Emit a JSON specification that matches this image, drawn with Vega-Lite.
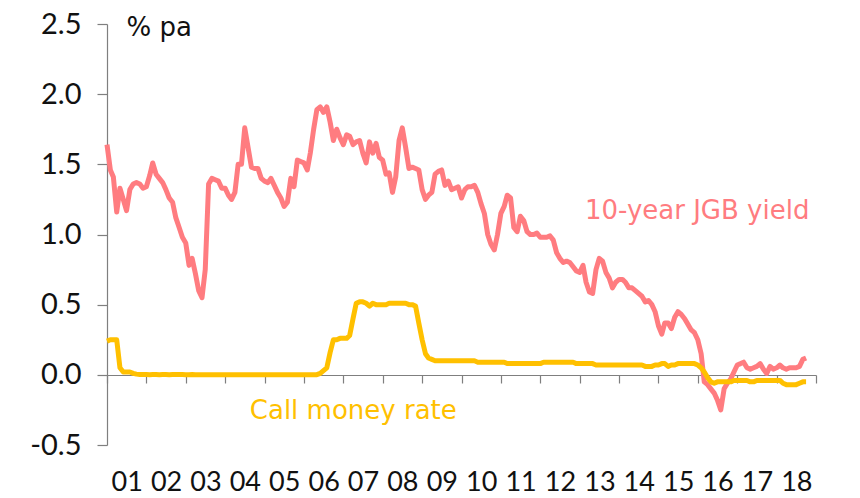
{
"$schema": "https://vega.github.io/schema/vega-lite/v6.json",
"autosize": "none",
"width": 709,
"height": 421,
"padding": {"left": 107, "top": 24, "right": 44, "bottom": 53},
"background": "white",
"config": {"view": {"stroke": null}, "font": "Lato"},
"datasets": {
"jgb": [
{"d":"2001-01","v":1.64},{"d":"2001-02","v":1.46},{"d":"2001-03","v":1.41},{"d":"2001-04","v":1.16},{"d":"2001-05","v":1.33},{"d":"2001-06","v":1.25},{"d":"2001-07","v":1.17},{"d":"2001-08","v":1.32},{"d":"2001-09","v":1.36},{"d":"2001-10","v":1.37},{"d":"2001-11","v":1.36},{"d":"2001-12","v":1.33},
{"d":"2002-01","v":1.34},{"d":"2002-02","v":1.42},{"d":"2002-03","v":1.51},{"d":"2002-04","v":1.43},{"d":"2002-05","v":1.40},{"d":"2002-06","v":1.37},{"d":"2002-07","v":1.32},{"d":"2002-08","v":1.26},{"d":"2002-09","v":1.23},{"d":"2002-10","v":1.12},{"d":"2002-11","v":1.05},{"d":"2002-12","v":0.98},
{"d":"2003-01","v":0.94},{"d":"2003-02","v":0.78},{"d":"2003-03","v":0.83},{"d":"2003-04","v":0.72},{"d":"2003-05","v":0.60},{"d":"2003-06","v":0.55},{"d":"2003-07","v":0.75},{"d":"2003-08","v":1.36},{"d":"2003-09","v":1.40},{"d":"2003-10","v":1.39},{"d":"2003-11","v":1.38},{"d":"2003-12","v":1.33},
{"d":"2004-01","v":1.33},{"d":"2004-02","v":1.28},{"d":"2004-03","v":1.25},{"d":"2004-04","v":1.30},{"d":"2004-05","v":1.50},{"d":"2004-06","v":1.50},{"d":"2004-07","v":1.76},{"d":"2004-08","v":1.62},{"d":"2004-09","v":1.48},{"d":"2004-10","v":1.47},{"d":"2004-11","v":1.47},{"d":"2004-12","v":1.40},
{"d":"2005-01","v":1.38},{"d":"2005-02","v":1.37},{"d":"2005-03","v":1.40},{"d":"2005-04","v":1.35},{"d":"2005-05","v":1.30},{"d":"2005-06","v":1.26},{"d":"2005-07","v":1.20},{"d":"2005-08","v":1.23},{"d":"2005-09","v":1.40},{"d":"2005-10","v":1.34},{"d":"2005-11","v":1.53},{"d":"2005-12","v":1.52},
{"d":"2006-01","v":1.51},{"d":"2006-02","v":1.46},{"d":"2006-03","v":1.58},{"d":"2006-04","v":1.75},{"d":"2006-05","v":1.89},{"d":"2006-06","v":1.91},{"d":"2006-07","v":1.87},{"d":"2006-08","v":1.91},{"d":"2006-09","v":1.80},{"d":"2006-10","v":1.67},{"d":"2006-11","v":1.75},{"d":"2006-12","v":1.69},
{"d":"2007-01","v":1.64},{"d":"2007-02","v":1.71},{"d":"2007-03","v":1.70},{"d":"2007-04","v":1.64},{"d":"2007-05","v":1.66},{"d":"2007-06","v":1.67},{"d":"2007-07","v":1.58},{"d":"2007-08","v":1.51},{"d":"2007-09","v":1.66},{"d":"2007-10","v":1.58},{"d":"2007-11","v":1.65},{"d":"2007-12","v":1.55},
{"d":"2008-01","v":1.53},{"d":"2008-02","v":1.43},{"d":"2008-03","v":1.44},{"d":"2008-04","v":1.30},{"d":"2008-05","v":1.41},{"d":"2008-06","v":1.67},{"d":"2008-07","v":1.76},{"d":"2008-08","v":1.62},{"d":"2008-09","v":1.47},{"d":"2008-10","v":1.48},{"d":"2008-11","v":1.47},{"d":"2008-12","v":1.46},
{"d":"2009-01","v":1.32},{"d":"2009-02","v":1.25},{"d":"2009-03","v":1.28},{"d":"2009-04","v":1.30},{"d":"2009-05","v":1.43},{"d":"2009-06","v":1.45},{"d":"2009-07","v":1.46},{"d":"2009-08","v":1.35},{"d":"2009-09","v":1.38},{"d":"2009-10","v":1.32},{"d":"2009-11","v":1.33},{"d":"2009-12","v":1.34},
{"d":"2010-01","v":1.26},{"d":"2010-02","v":1.32},{"d":"2010-03","v":1.34},{"d":"2010-04","v":1.34},{"d":"2010-05","v":1.35},{"d":"2010-06","v":1.30},{"d":"2010-07","v":1.22},{"d":"2010-08","v":1.15},{"d":"2010-09","v":1.00},{"d":"2010-10","v":0.93},{"d":"2010-11","v":0.89},{"d":"2010-12","v":1.00},
{"d":"2011-01","v":1.15},{"d":"2011-02","v":1.20},{"d":"2011-03","v":1.28},{"d":"2011-04","v":1.26},{"d":"2011-05","v":1.05},{"d":"2011-06","v":1.02},{"d":"2011-07","v":1.13},{"d":"2011-08","v":1.10},{"d":"2011-09","v":1.02},{"d":"2011-10","v":1.00},{"d":"2011-11","v":1.00},{"d":"2011-12","v":1.01},
{"d":"2012-01","v":0.98},{"d":"2012-02","v":0.98},{"d":"2012-03","v":0.98},{"d":"2012-04","v":0.99},{"d":"2012-05","v":0.96},{"d":"2012-06","v":0.87},{"d":"2012-07","v":0.83},{"d":"2012-08","v":0.80},{"d":"2012-09","v":0.81},{"d":"2012-10","v":0.80},{"d":"2012-11","v":0.77},{"d":"2012-12","v":0.74},
{"d":"2013-01","v":0.73},{"d":"2013-02","v":0.78},{"d":"2013-03","v":0.66},{"d":"2013-04","v":0.59},{"d":"2013-05","v":0.58},{"d":"2013-06","v":0.75},{"d":"2013-07","v":0.83},{"d":"2013-08","v":0.81},{"d":"2013-09","v":0.73},{"d":"2013-10","v":0.69},{"d":"2013-11","v":0.62},{"d":"2013-12","v":0.66},
{"d":"2014-01","v":0.68},{"d":"2014-02","v":0.68},{"d":"2014-03","v":0.66},{"d":"2014-04","v":0.62},{"d":"2014-05","v":0.62},{"d":"2014-06","v":0.60},{"d":"2014-07","v":0.58},{"d":"2014-08","v":0.56},{"d":"2014-09","v":0.52},{"d":"2014-10","v":0.53},{"d":"2014-11","v":0.50},{"d":"2014-12","v":0.45},
{"d":"2015-01","v":0.35},{"d":"2015-02","v":0.29},{"d":"2015-03","v":0.37},{"d":"2015-04","v":0.37},{"d":"2015-05","v":0.33},{"d":"2015-06","v":0.41},{"d":"2015-07","v":0.45},{"d":"2015-08","v":0.43},{"d":"2015-09","v":0.40},{"d":"2015-10","v":0.36},{"d":"2015-11","v":0.32},{"d":"2015-12","v":0.30},
{"d":"2016-01","v":0.25},{"d":"2016-02","v":0.15},{"d":"2016-03","v":-0.05},{"d":"2016-04","v":-0.07},{"d":"2016-05","v":-0.10},{"d":"2016-06","v":-0.13},{"d":"2016-07","v":-0.18},{"d":"2016-08","v":-0.25},{"d":"2016-09","v":-0.10},{"d":"2016-10","v":-0.06},{"d":"2016-11","v":-0.03},{"d":"2016-12","v":0.02},
{"d":"2017-01","v":0.07},{"d":"2017-02","v":0.08},{"d":"2017-03","v":0.09},{"d":"2017-04","v":0.05},{"d":"2017-05","v":0.04},{"d":"2017-06","v":0.05},{"d":"2017-07","v":0.06},{"d":"2017-08","v":0.08},{"d":"2017-09","v":0.04},{"d":"2017-10","v":0.01},{"d":"2017-11","v":0.06},{"d":"2017-12","v":0.04},
{"d":"2018-01","v":0.05},{"d":"2018-02","v":0.07},{"d":"2018-03","v":0.05},{"d":"2018-04","v":0.04},{"d":"2018-05","v":0.05},{"d":"2018-06","v":0.05},{"d":"2018-07","v":0.05},{"d":"2018-08","v":0.06},{"d":"2018-09","v":0.11},{"d":"2018-10","v":0.12}
],
"call": [
{"d":"2001-01","v":0.24},{"d":"2001-02","v":0.25},{"d":"2001-03","v":0.25},{"d":"2001-04","v":0.25},{"d":"2001-05","v":0.05},{"d":"2001-06","v":0.02},{"d":"2001-07","v":0.02},{"d":"2001-08","v":0.02},{"d":"2001-09","v":0.01},{"d":"2001-10","v":0.005},{"d":"2001-11","v":0.003},{"d":"2001-12","v":0.002},
{"d":"2002-01","v":0.002},{"d":"2002-02","v":0.001},{"d":"2002-03","v":0.002},{"d":"2002-04","v":0.002},{"d":"2002-05","v":0.001},{"d":"2002-06","v":0.002},{"d":"2002-07","v":0.002},{"d":"2002-08","v":0.001},{"d":"2002-09","v":0.002},{"d":"2002-10","v":0.003},{"d":"2002-11","v":0.002},{"d":"2002-12","v":0.002},
{"d":"2003-01","v":0.001},{"d":"2003-02","v":0.001},{"d":"2003-03","v":0.002},{"d":"2003-04","v":0.001},{"d":"2003-05","v":0.001},{"d":"2003-06","v":0.001},{"d":"2003-07","v":0.001},{"d":"2003-08","v":0.001},{"d":"2003-09","v":0.001},{"d":"2003-10","v":0.001},{"d":"2003-11","v":0.001},{"d":"2003-12","v":0.001},
{"d":"2004-01","v":0.001},{"d":"2004-02","v":0.001},{"d":"2004-03","v":0.001},{"d":"2004-04","v":0.001},{"d":"2004-05","v":0.001},{"d":"2004-06","v":0.001},{"d":"2004-07","v":0.001},{"d":"2004-08","v":0.001},{"d":"2004-09","v":0.001},{"d":"2004-10","v":0.001},{"d":"2004-11","v":0.001},{"d":"2004-12","v":0.001},
{"d":"2005-01","v":0.001},{"d":"2005-02","v":0.001},{"d":"2005-03","v":0.001},{"d":"2005-04","v":0.001},{"d":"2005-05","v":0.001},{"d":"2005-06","v":0.001},{"d":"2005-07","v":0.001},{"d":"2005-08","v":0.001},{"d":"2005-09","v":0.001},{"d":"2005-10","v":0.001},{"d":"2005-11","v":0.001},{"d":"2005-12","v":0.001},
{"d":"2006-01","v":0.001},{"d":"2006-02","v":0.001},{"d":"2006-03","v":0.001},{"d":"2006-04","v":0.001},{"d":"2006-05","v":0.001},{"d":"2006-06","v":0.01},{"d":"2006-07","v":0.03},{"d":"2006-08","v":0.05},{"d":"2006-09","v":0.16},{"d":"2006-10","v":0.25},{"d":"2006-11","v":0.25},{"d":"2006-12","v":0.26},
{"d":"2007-01","v":0.26},{"d":"2007-02","v":0.26},{"d":"2007-03","v":0.28},{"d":"2007-04","v":0.40},{"d":"2007-05","v":0.51},{"d":"2007-06","v":0.52},{"d":"2007-07","v":0.52},{"d":"2007-08","v":0.51},{"d":"2007-09","v":0.49},{"d":"2007-10","v":0.51},{"d":"2007-11","v":0.50},{"d":"2007-12","v":0.50},
{"d":"2008-01","v":0.50},{"d":"2008-02","v":0.50},{"d":"2008-03","v":0.51},{"d":"2008-04","v":0.51},{"d":"2008-05","v":0.51},{"d":"2008-06","v":0.51},{"d":"2008-07","v":0.51},{"d":"2008-08","v":0.51},{"d":"2008-09","v":0.50},{"d":"2008-10","v":0.50},{"d":"2008-11","v":0.49},{"d":"2008-12","v":0.37},
{"d":"2009-01","v":0.25},{"d":"2009-02","v":0.15},{"d":"2009-03","v":0.12},{"d":"2009-04","v":0.11},{"d":"2009-05","v":0.10},{"d":"2009-06","v":0.10},{"d":"2009-07","v":0.10},{"d":"2009-08","v":0.10},{"d":"2009-09","v":0.10},{"d":"2009-10","v":0.10},{"d":"2009-11","v":0.10},{"d":"2009-12","v":0.10},
{"d":"2010-01","v":0.10},{"d":"2010-02","v":0.10},{"d":"2010-03","v":0.10},{"d":"2010-04","v":0.10},{"d":"2010-05","v":0.10},{"d":"2010-06","v":0.09},{"d":"2010-07","v":0.09},{"d":"2010-08","v":0.09},{"d":"2010-09","v":0.09},{"d":"2010-10","v":0.09},{"d":"2010-11","v":0.09},{"d":"2010-12","v":0.09},
{"d":"2011-01","v":0.09},{"d":"2011-02","v":0.09},{"d":"2011-03","v":0.08},{"d":"2011-04","v":0.08},{"d":"2011-05","v":0.08},{"d":"2011-06","v":0.08},{"d":"2011-07","v":0.08},{"d":"2011-08","v":0.08},{"d":"2011-09","v":0.08},{"d":"2011-10","v":0.08},{"d":"2011-11","v":0.08},{"d":"2011-12","v":0.08},
{"d":"2012-01","v":0.08},{"d":"2012-02","v":0.09},{"d":"2012-03","v":0.09},{"d":"2012-04","v":0.09},{"d":"2012-05","v":0.09},{"d":"2012-06","v":0.09},{"d":"2012-07","v":0.09},{"d":"2012-08","v":0.09},{"d":"2012-09","v":0.09},{"d":"2012-10","v":0.09},{"d":"2012-11","v":0.09},{"d":"2012-12","v":0.08},
{"d":"2013-01","v":0.08},{"d":"2013-02","v":0.08},{"d":"2013-03","v":0.08},{"d":"2013-04","v":0.08},{"d":"2013-05","v":0.08},{"d":"2013-06","v":0.07},{"d":"2013-07","v":0.07},{"d":"2013-08","v":0.07},{"d":"2013-09","v":0.07},{"d":"2013-10","v":0.07},{"d":"2013-11","v":0.07},{"d":"2013-12","v":0.07},
{"d":"2014-01","v":0.07},{"d":"2014-02","v":0.07},{"d":"2014-03","v":0.07},{"d":"2014-04","v":0.07},{"d":"2014-05","v":0.07},{"d":"2014-06","v":0.07},{"d":"2014-07","v":0.07},{"d":"2014-08","v":0.07},{"d":"2014-09","v":0.06},{"d":"2014-10","v":0.06},{"d":"2014-11","v":0.06},{"d":"2014-12","v":0.07},
{"d":"2015-01","v":0.07},{"d":"2015-02","v":0.08},{"d":"2015-03","v":0.08},{"d":"2015-04","v":0.06},{"d":"2015-05","v":0.07},{"d":"2015-06","v":0.07},{"d":"2015-07","v":0.08},{"d":"2015-08","v":0.08},{"d":"2015-09","v":0.08},{"d":"2015-10","v":0.08},{"d":"2015-11","v":0.08},{"d":"2015-12","v":0.08},
{"d":"2016-01","v":0.07},{"d":"2016-02","v":0.05},{"d":"2016-03","v":0.02},{"d":"2016-04","v":-0.02},{"d":"2016-05","v":-0.05},{"d":"2016-06","v":-0.06},{"d":"2016-07","v":-0.05},{"d":"2016-08","v":-0.05},{"d":"2016-09","v":-0.05},{"d":"2016-10","v":-0.05},{"d":"2016-11","v":-0.05},{"d":"2016-12","v":-0.04},
{"d":"2017-01","v":-0.04},{"d":"2017-02","v":-0.04},{"d":"2017-03","v":-0.04},{"d":"2017-04","v":-0.04},{"d":"2017-05","v":-0.05},{"d":"2017-06","v":-0.05},{"d":"2017-07","v":-0.04},{"d":"2017-08","v":-0.04},{"d":"2017-09","v":-0.04},{"d":"2017-10","v":-0.04},{"d":"2017-11","v":-0.04},{"d":"2017-12","v":-0.04},
{"d":"2018-01","v":-0.04},{"d":"2018-02","v":-0.04},{"d":"2018-03","v":-0.06},{"d":"2018-04","v":-0.07},{"d":"2018-05","v":-0.07},{"d":"2018-06","v":-0.07},{"d":"2018-07","v":-0.07},{"d":"2018-08","v":-0.06},{"d":"2018-09","v":-0.05},{"d":"2018-10","v":-0.05}
],
"notes": [
{"d":"2001-07-01","v":2.47,"label":"% pa","s":"unit"},
{"d":"2013-02-18","v":1.17,"label":"10-year JGB yield","s":"jgb"},
{"d":"2004-08-17","v":-0.26,"label":"Call money rate","s":"call"}
]
},
"layer": [
{
"data": {"name": "jgb"},
"mark": {"type": "line", "color": "#FF7C80", "strokeWidth": 5, "strokeJoin": "round"},
"encoding": {
"x": {"field": "d", "type": "temporal",
"scale": {"type": "utc", "nice": false, "domain": [{"year": 2001, "month": 1, "date": 1, "utc": true}, {"year": 2019, "month": 1, "date": 1, "utc": true}]},
"axis": {"title": null, "grid": false, "offset": -70, "tickCount": {"interval": "year", "step": 1},
"labelExpr": "utcyear(datum.value) < 2019 ? utcFormat(datum.value, '%y') : ''",
"labelOffset": 19.7, "labelPadding": 86, "tickSize": 8, "labelFontSize": 27, "labelColor": "#111111",
"labelAlign": "center", "labelFlush": false, "labelOverlap": false, "labelBound": false,
"domainColor": "#7f7f7f", "tickColor": "#7f7f7f", "domainWidth": 1.2, "tickWidth": 1.2}},
"y": {"field": "v", "type": "quantitative",
"scale": {"domain": [-0.5, 2.5], "nice": false, "zero": false},
"axis": {"title": null, "grid": false, "values": [-0.5, 0, 0.5, 1, 1.5, 2, 2.5],
"labelExpr": "datum.value < 0 ? '-' + format(-datum.value, '.1f') : format(datum.value, '.1f')",
"tickSize": 10, "labelPadding": 16, "labelFontSize": 29, "labelColor": "#111111",
"domainColor": "#7f7f7f", "tickColor": "#7f7f7f", "domainWidth": 1.2, "tickWidth": 1.2}}
}
},
{
"data": {"name": "call"},
"mark": {"type": "line", "color": "#FFC000", "strokeWidth": 5, "strokeJoin": "round"},
"encoding": {
"x": {"field": "d", "type": "temporal"},
"y": {"field": "v", "type": "quantitative"}
}
},
{
"data": {"name": "notes"},
"mark": {"type": "text", "align": "left", "baseline": "middle", "fontSize": 26, "font": "DejaVu Sans"},
"encoding": {
"x": {"field": "d", "type": "temporal"},
"y": {"field": "v", "type": "quantitative"},
"text": {"field": "label"},
"color": {"field": "s", "type": "nominal", "legend": null,
"scale": {"domain": ["unit", "jgb", "call"], "range": ["#111111", "#FF7C80", "#FFC000"]}}
}
}
]
}
